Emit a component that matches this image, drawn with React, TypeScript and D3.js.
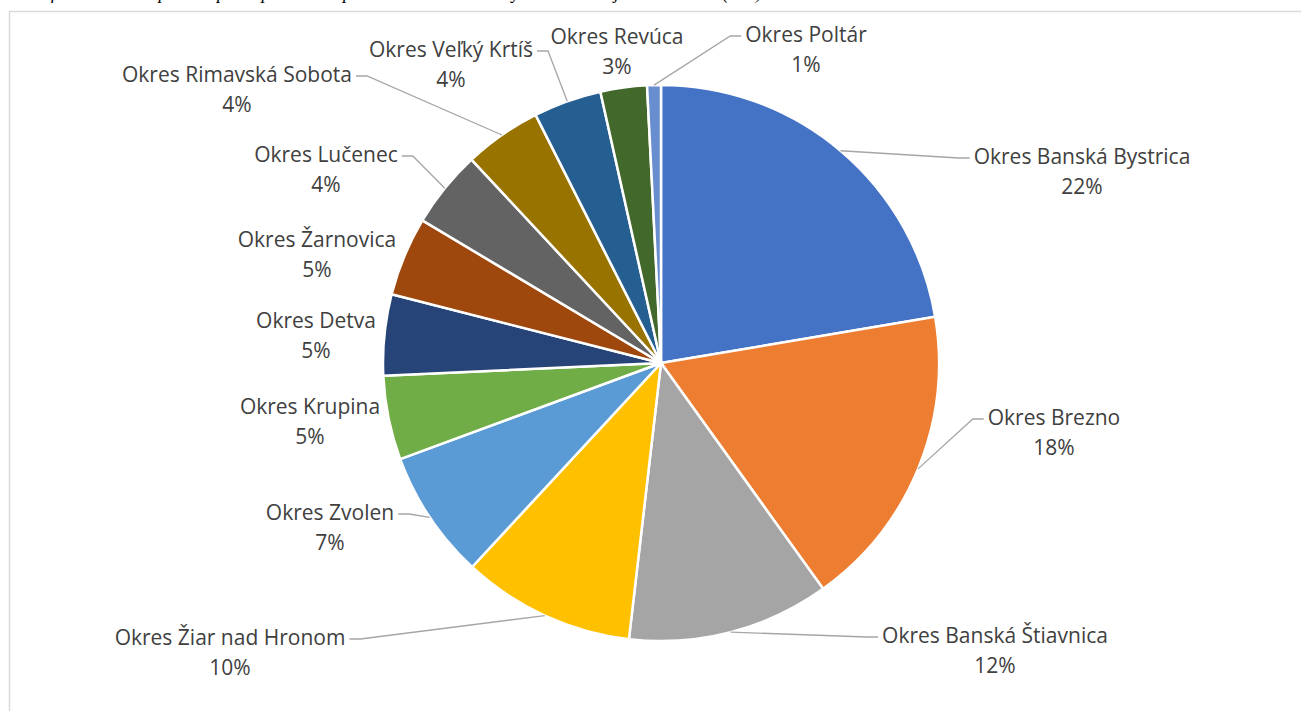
import React from "react";
import * as d3 from "d3";

const categories = [
  "Okres Banská Bystrica",
  "Okres Brezno",
  "Okres Banská Štiavnica",
  "Okres Žiar nad Hronom",
  "Okres Zvolen",
  "Okres Krupina",
  "Okres Detva",
  "Okres Žarnovica",
  "Okres Lučenec",
  "Okres Rimavská Sobota",
  "Okres Veľký Krtíš",
  "Okres Revúca",
  "Okres Poltár",
];

const values = [22.35, 17.75, 11.75, 10.05, 7.49, 4.9, 4.7, 4.6, 4.49, 4.49, 3.95, 2.7, 0.8];

const colors = [
  "#4472C4", "#ED7D31", "#A5A5A5", "#FFC000", "#5B9BD5", "#70AD47",
  "#264478", "#9E480E", "#636363", "#997300", "#255E91", "#43682B", "#698ED0",
];

// label layout: center x, first-line center y, whether a leader line is drawn
const labelX = [1082, 1054, 995, 230, 330, 310, 316, 317, 326, 237, 451, 617, 806];
const labelY = [157, 418, 636, 638, 513, 407, 321, 240, 155, 75, 50, 37, 35];
const hasLeader = [true, true, true, true, true, false, false, false, true, true, true, false, true];

const caption = "Graf č. 4: Zostava podielu počtu poistencov podľa okresov Banskobystrického kraja v roku 2019 (v %)";

const W = 1301;
const H = 711;
const CX = 661;
const CY = 363;
const R = 278;
const FS = 21;
const FAMILY = "'Open Sans'";

function measure(text: string): number {
  const c = document.createElement("canvas");
  const ctx = c.getContext("2d");
  if (!ctx) return text.length * 10;
  ctx.font = `${FS}px ${FAMILY}`;
  return ctx.measureText(text).width;
}

export default function App() {
  const total = d3.sum(values);
  const pie = d3.pie<number>().sort(null).value((d) => d);
  const arcs = pie(values);
  const arcGen = d3.arc<d3.PieArcDatum<number>>().innerRadius(0).outerRadius(R);

  return (
    <svg
      width={W}
      height={H}
      style={{ position: "absolute", left: 0, top: 0, display: "block", background: "#fff" }}
    >
      <text
        x={22}
        y={-1}
        fontFamily="'Liberation Serif', serif"
        fontStyle="italic"
        fontSize={18}
        fill="#000"
      >
        {caption}
      </text>
      <rect x={9.5} y={11.5} width={W + 20} height={H + 20} fill="none" stroke="#d9d9d9" strokeWidth={1.5} />
      <g transform={`translate(${CX},${CY})`}>
        {arcs.map((a, i) => (
          <path key={i} d={arcGen(a) || ""} fill={colors[i]} stroke="#fff" strokeWidth={2.5} strokeLinejoin="round" />
        ))}
      </g>
      {arcs.map((a, i) => {
        if (!hasLeader[i]) return null;
        const mid = (a.startAngle + a.endAngle) / 2;
        const sx = CX + R * Math.sin(mid);
        const sy = CY - R * Math.cos(mid);
        const w = measure(categories[i]);
        const right = labelX[i] > CX;
        const ex = right ? labelX[i] - w / 2 - 4 : labelX[i] + w / 2 + 4;
        const ey = labelY[i] + 1;
        const kx = right ? ex - 11 : ex + 11;
        const line = d3.line()([
          [sx, sy],
          [kx, ey],
          [ex, ey],
        ]);
        return <path key={"l" + i} d={line || ""} fill="none" stroke="#a6a6a6" strokeWidth={1.3} />;
      })}
      {arcs.map((a, i) => (
        <text
          key={"t" + i}
          x={labelX[i]}
          y={labelY[i]}
          textAnchor="middle"
          fontFamily={FAMILY}
          fontSize={FS}
          fill="#404040"
        >
          <tspan x={labelX[i]} dy="0.35em">{categories[i]}</tspan>
          <tspan x={labelX[i]} dy="1.43em">{Math.round((values[i] / total) * 100)}%</tspan>
        </text>
      ))}
    </svg>
  );
}
